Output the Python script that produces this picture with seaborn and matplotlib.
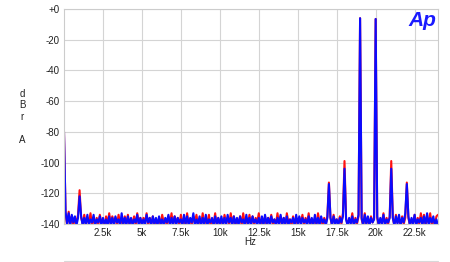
import numpy as np
import pandas as pd
import matplotlib
matplotlib.use("Agg")
import matplotlib.pyplot as plt
from matplotlib.ticker import MultipleLocator, FixedLocator
from matplotlib.lines import Line2D
import seaborn as sns

# FFT bin spacing (Hz) and number of bins, 0 .. 24 kHz
bin_hz = 100
n_bins = 241

# level of the red channel (dBrA), one value per 100 Hz bin
red_dbra = [
    -80, -133, -141, -132, -140, -135, -141, -136, -139, -134,
    -118, -136, -140, -134, -141, -136, -139, -133, -141, -137,
    -140, -136, -141, -134, -139, -137, -141, -135, -140, -133,
    -141, -135, -139, -136, -141, -134, -140, -137, -141, -135,
    -140, -134, -141, -137, -139, -135, -141, -133, -140, -136,
    -141, -136, -139, -133, -141, -136, -140, -135, -141, -137,
    -140, -136, -141, -134, -139, -137, -141, -135, -140, -133,
    -141, -135, -139, -136, -141, -134, -140, -136, -141, -133,
    -140, -137, -141, -135, -139, -134, -141, -137, -140, -133,
    -141, -136, -139, -134, -141, -137, -140, -133, -141, -136,
    -140, -137, -141, -134, -139, -136, -141, -133, -140, -135,
    -141, -137, -139, -135, -141, -133, -140, -136, -141, -134,
    -140, -135, -141, -136, -139, -133, -141, -137, -140, -135,
    -141, -136, -139, -134, -141, -137, -140, -133, -141, -135,
    -140, -136, -141, -133, -139, -137, -141, -135, -140, -136,
    -141, -136, -139, -134, -141, -136, -140, -133, -141, -137,
    -140, -136, -141, -133, -139, -137, -141, -136, -140, -135,
    -113, -136, -141, -134, -139, -137, -141, -135, -140, -133,
    -99, -136, -141, -137, -139, -133, -141, -136, -140, -135,
    -6, -137, -141, -133, -140, -136, -141, -135, -139, -136,
    -6.5, -136, -141, -137, -139, -133, -141, -136, -140, -135,
    -99, -136, -141, -134, -139, -137, -141, -135, -140, -136,
    -113, -136, -141, -137, -139, -134, -141, -136, -140, -133,
    -140, -134, -141, -136, -139, -133, -141, -137, -140, -135,
    -134,
]

# level of the blue channel (dBrA), one value per 100 Hz bin
blue_dbra = [
    -80, -132, -140, -133, -141, -134, -139, -135, -141, -136,
    -122, -135, -141, -136, -140, -134, -141, -137, -139, -134,
    -141, -137, -139, -135, -141, -136, -140, -137, -141, -135,
    -140, -136, -141, -135, -139, -137, -141, -133, -140, -136,
    -141, -135, -140, -136, -141, -137, -139, -134, -141, -136,
    -140, -137, -141, -134, -139, -136, -141, -135, -140, -136,
    -141, -135, -140, -137, -141, -136, -139, -134, -141, -136,
    -140, -135, -141, -136, -139, -137, -141, -134, -140, -135,
    -141, -136, -139, -133, -141, -137, -140, -135, -141, -136,
    -140, -134, -141, -137, -139, -136, -141, -135, -140, -136,
    -141, -135, -140, -136, -141, -134, -139, -136, -141, -135,
    -140, -136, -141, -135, -139, -137, -141, -134, -140, -136,
    -141, -135, -139, -137, -141, -136, -140, -135, -141, -134,
    -140, -136, -141, -135, -139, -137, -141, -136, -140, -134,
    -141, -136, -140, -135, -141, -137, -139, -136, -141, -134,
    -140, -135, -141, -136, -139, -137, -141, -135, -140, -136,
    -141, -134, -140, -136, -141, -135, -139, -137, -141, -136,
    -114, -136, -141, -135, -140, -137, -141, -136, -139, -135,
    -104, -137, -141, -136, -140, -135, -141, -137, -139, -134,
    -6, -136, -141, -134, -140, -135, -141, -136, -139, -137,
    -6.5, -135, -141, -136, -140, -134, -141, -137, -139, -136,
    -104, -136, -141, -135, -140, -134, -141, -136, -139, -133,
    -114, -135, -141, -136, -140, -134, -141, -137, -139, -136,
    -141, -135, -140, -133, -141, -136, -139, -135, -141, -137,
    -141,
]

x_ticks = [2500, 5000, 7500, 10000, 12500, 15000, 17500, 20000, 22500]
x_tick_labels = ["2.5k", "5k", "7.5k", "10k", "12.5k", "15k", "17.5k", "20k", "22.5k"]
y_ticks = [0, -20, -40, -60, -80, -100, -120, -140]
y_tick_labels = ["+0", "-20", "-40", "-60", "-80", "-100", "-120", "-140"]

freqs = np.arange(n_bins) * bin_hz
df = pd.DataFrame({
    "Hz": np.concatenate([freqs, freqs]),
    "dBrA": np.concatenate([red_dbra, blue_dbra]),
    "ch": ["red"] * n_bins + ["blue"] * n_bins,
})

sns.set_style("white")
plt.rcParams["font.family"] = ["Liberation Sans", "DejaVu Sans"]

fig = plt.figure(figsize=(4.5, 2.62), dpi=100)
ax = fig.add_axes([64 / 450, 38 / 262, 374 / 450, 215 / 262])

sns.lineplot(data=df, x="Hz", y="dBrA", hue="ch", hue_order=["red", "blue"],
             palette={"red": "#ff1010", "blue": "#0a0aff"}, estimator=None,
             linewidth=1.5, legend=False, ax=ax)

ax.set_xlim(0, 24000)
ax.set_ylim(-140, 0)
ax.xaxis.set_major_locator(FixedLocator(x_ticks))
ax.set_xticklabels(x_tick_labels)
ax.yaxis.set_major_locator(FixedLocator(y_ticks))
ax.set_yticklabels(y_tick_labels)
ax.yaxis.set_minor_locator(MultipleLocator(2))
ax.grid(True, which="major", color="#d4d4d4", linewidth=0.8)
ax.set_axisbelow(True)
ax.tick_params(axis="both", which="major", length=0, labelsize=7, pad=3, colors="#222222")
ax.tick_params(axis="y", which="minor", direction="in", length=3, color="#d0d0d0", width=0.6)
for s in ax.spines.values():
    s.set_color("#cccccc")
    s.set_linewidth(0.8)
ax.set_xlabel("")
ax.set_ylabel("")

fig.text(250 / 450, 1 - 242 / 262, "Hz", ha="center", va="center", fontsize=7, color="#222222")
fig.text(22 / 450, 1 - 117 / 262, "d\nB\nr\n\nA", ha="center", va="center",
         fontsize=7, linespacing=1.2, color="#222222")
fig.text(422 / 450, 1 - 20 / 262, "Ap", ha="center", va="center", fontsize=15,
         fontweight="bold", fontstyle="italic", color="#1a1aff")
fig.add_artist(Line2D([64 / 450, 438 / 450], [1 - 261 / 262, 1 - 261 / 262],
                      color="#d8d8d8", linewidth=0.8))

fig.savefig("out.png", dpi=100)
